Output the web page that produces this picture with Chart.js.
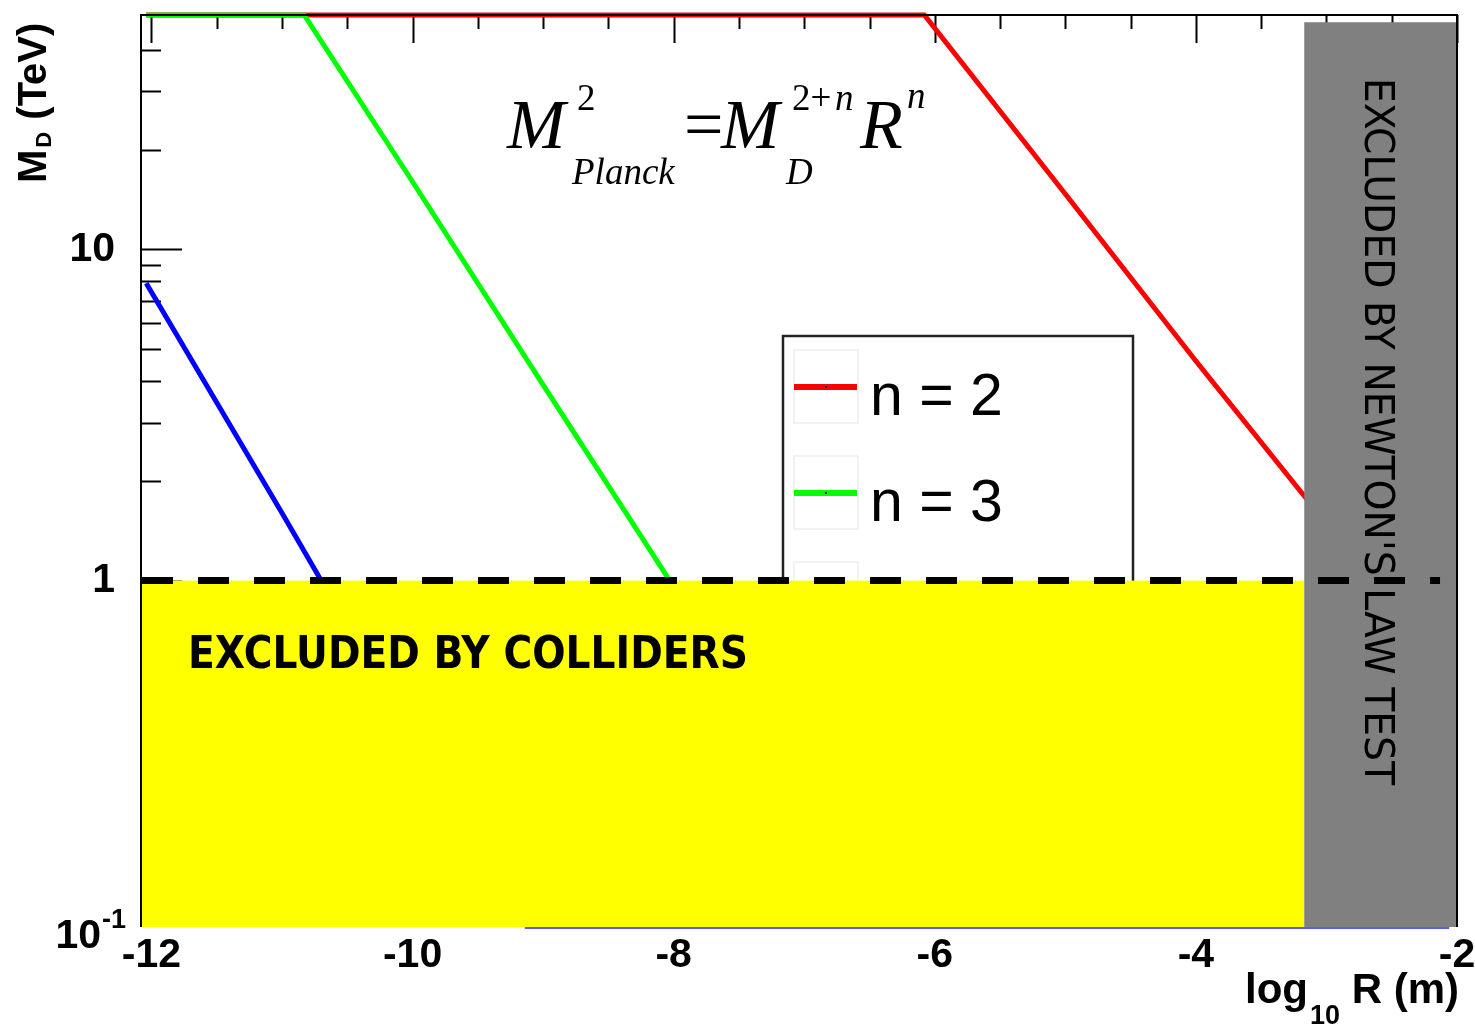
<!DOCTYPE html>
<html>
<head>
<meta charset="utf-8">
<script src="https://cdn.jsdelivr.net/npm/chart.js@4/dist/chart.umd.min.js"></script>
<style>
  html, body { margin: 0; padding: 0; background: #fff; }
  canvas { display: block; }
</style>
</head>
<body>
<canvas id="myChart" width="1475" height="1027"></canvas>
<script>
// log10 R (m) and M_D (TeV) along each curve; where a curve runs off the
// top of the frame it is held at the top edge
const logR_n2 = [-12.04, -6.08, -5.0, -4.0, -3.17, -2.0];
const MD_n2   = [51, 51, 14.7, 4.6, 1.8, 0.46];
const logR_n3 = [-12.04, -10.83, -10.0, -9.0, -8.03, -7.0];
const MD_n3   = [51, 51, 16.0, 3.9, 1.0, 0.24];
const logR_n4 = [-12.04, -11.0, -10.7, -10.0];
const MD_n4   = [7.9, 1.6, 1.0, 0.34];

const seriesLabels = ['n = 2', 'n = 3', 'n = 4'];
const seriesColors = ['#ff0000', '#00ff00', '#0000ff'];

const xTicks = [-12, -10, -8, -6, -4, -2];
const yTicks = [0.1, 1, 10];
const xMin = -12.08, xMax = -2;
const yMin = 0.09, yMax = 51;

// excluded regions
const colliderLimit = 1;      // TeV
const newtonLimit = -3.17;    // log10 R
const newtonTop = 48.5;

const ctx = document.getElementById('myChart');

function pts(xs, ys) {
    return xs.map((v, i) => ({ x: v, y: ys[i] }));
}

const tickFont = { family: 'Liberation Sans', weight: 'bold', size: 41 };

const decor = {
    id: 'decor',
    beforeDatasetsDraw(chart) {
        const { ctx, chartArea: a, scales: { x, y } } = chart;
        ctx.save();
        ctx.strokeStyle = '#000';
        ctx.lineWidth = 2;
        ctx.beginPath();
        // top axis ticks, pointing inside
        for (let v = -12; v <= -2; v += 0.5) {
            const px = Math.round(x.getPixelForValue(v)) + 0.5;
            const len = (v % 2 === 0) ? 28 : 14;
            ctx.moveTo(px, a.top);
            ctx.lineTo(px, a.top + len);
        }
        // left axis ticks
        const minor = [0.2, 0.3, 0.4, 0.5, 0.6, 0.7, 0.8, 0.9, 2, 3, 4, 5, 6, 7, 8, 9, 20, 30, 40];
        minor.forEach(v => {
            const py = Math.round(y.getPixelForValue(v)) + 0.5;
            ctx.moveTo(a.left, py);
            ctx.lineTo(a.left + 20, py);
        });
        [1, 10].forEach(v => {
            const py = Math.round(y.getPixelForValue(v)) + 0.5;
            ctx.moveTo(a.left, py);
            ctx.lineTo(a.left + 41, py);
        });
        ctx.stroke();
        ctx.restore();
    },
    afterDatasetsDraw(chart) {
        const { ctx, chartArea: a, scales: { x, y } } = chart;
        ctx.save();

        // legend box (its lower part ends up under the yellow band)
        const lg = { x: 783, y: 336, w: 350, h: 330, row: 106 };
        ctx.fillStyle = '#fff';
        ctx.fillRect(lg.x, lg.y, lg.w, lg.h);
        ctx.strokeStyle = '#222';
        ctx.lineWidth = 2.5;
        ctx.strokeRect(lg.x, lg.y, lg.w, lg.h);
        chart.data.datasets.forEach((ds, i) => {
            const top = 350 + i * lg.row;
            ctx.strokeStyle = '#eeeeee';
            ctx.lineWidth = 1.5;
            ctx.strokeRect(794, top, 64, 73);
            ctx.strokeStyle = ds.borderColor;
            ctx.lineWidth = 6;
            ctx.beginPath();
            ctx.moveTo(794, top + 37);
            ctx.lineTo(857, top + 37);
            ctx.stroke();
            ctx.fillStyle = '#000';
            ctx.fillRect(825, top + 36, 2, 2);
            ctx.font = '59px "Liberation Sans"';
            ctx.textBaseline = 'alphabetic';
            ctx.fillText(ds.label, 870, top + 65);
        });

        const xL = x.getPixelForValue(xMin);
        const xN = x.getPixelForValue(newtonLimit);
        const xR = x.getPixelForValue(xMax);
        const y1 = y.getPixelForValue(colliderLimit);

        // excluded by colliders
        ctx.fillStyle = '#ffff00';
        ctx.fillRect(xL, y1, xN - xL, a.bottom - y1);
        // excluded by gravity tests
        const yG = y.getPixelForValue(newtonTop);
        ctx.fillStyle = '#808080';
        ctx.fillRect(xN, yG, xR - xN - 1, a.bottom - yG);

        // thin line under the bands
        ctx.strokeStyle = '#5a5aff';
        ctx.lineWidth = 2;
        ctx.beginPath();
        ctx.moveTo(x.getPixelForValue(-9.14), a.bottom + 1);
        ctx.lineTo(x.getPixelForValue(-2.06), a.bottom + 1);
        ctx.stroke();

        // frame
        ctx.strokeStyle = '#000';
        ctx.lineWidth = 2;
        ctx.beginPath();
        ctx.moveTo(a.left, a.bottom);
        ctx.lineTo(a.left, a.top);
        ctx.lineTo(a.right, a.top);
        ctx.lineTo(a.right, a.bottom);
        ctx.stroke();

        // M_D = 1 TeV
        ctx.setLineDash([31, 25]);
        ctx.lineWidth = 7;
        ctx.beginPath();
        ctx.moveTo(a.left + 1, y1);
        ctx.lineTo(x.getPixelForValue(-2.13), y1);
        ctx.stroke();
        ctx.setLineDash([]);

        // band labels
        ctx.fillStyle = '#000';
        fitText(ctx, 'EXCLUDED BY COLLIDERS', 188, 668, 560, 'bold 45px "DejaVu Sans"');
        ctx.save();
        ctx.translate(1365, 78);
        ctx.rotate(Math.PI / 2);
        fitText(ctx, 'EXCLUDED BY NEWTON\'S LAW TEST', 0, 0, 707, '41px "DejaVu Sans"');
        ctx.restore();

        // M^2_Planck = M_D^(2+n) R^n
        const big = 'italic 70px "Liberation Serif"';
        const sml = 'italic 37px "Liberation Serif"';
        const num = '37px "Liberation Serif"';
        ctx.font = big;  ctx.fillText('M', 507, 148);
        ctx.font = num;  ctx.fillText('2', 577, 110);
        ctx.font = sml;  ctx.fillText('Planck', 572, 184);
        ctx.font = '70px "Liberation Serif"'; ctx.fillText('=', 684, 148);
        ctx.font = big;  ctx.fillText('M', 721, 148);
        ctx.font = num;  ctx.fillText('2+', 792, 110);
        ctx.font = sml;  ctx.fillText('n', 835, 110);
        ctx.font = sml;  ctx.fillText('D', 786, 184);
        ctx.font = big;  ctx.fillText('R', 860, 148);
        ctx.font = sml;  ctx.fillText('n', 907, 108);

        // 10^-1 tick label
        ctx.font = 'bold 41px "Liberation Sans"';
        ctx.textAlign = 'right';
        ctx.fillText('10', 101, a.bottom + 21);
        ctx.textAlign = 'left';
        ctx.font = 'bold 27px "Liberation Sans"';
        ctx.fillText('-1', 102, a.bottom + 1);

        // axis titles
        ctx.font = 'bold 42px "Liberation Sans"';
        ctx.fillText('log', 1245, 1003);
        ctx.font = 'bold 27px "Liberation Sans"';
        ctx.fillText('10', 1310, 1024);
        ctx.font = 'bold 42px "Liberation Sans"';
        ctx.fillText(' R (m)', 1340, 1003);

        ctx.save();
        ctx.translate(46, 183);
        ctx.rotate(-Math.PI / 2);
        ctx.font = 'bold 40px "Liberation Sans"';
        ctx.fillText('M', 0, 0);
        const mw = ctx.measureText('M').width;
        ctx.font = 'bold 22px "Liberation Sans"';
        ctx.fillText('D', mw + 2, 5);
        const dw = ctx.measureText('D').width;
        ctx.font = 'bold 40px "Liberation Sans"';
        ctx.fillText(' (TeV)', mw + dw + 3, 0);
        ctx.restore();

        ctx.restore();
    }
};

// draws text squeezed horizontally to a given width
function fitText(ctx, text, x0, y0, width, font) {
    ctx.save();
    ctx.font = font;
    ctx.textAlign = 'left';
    ctx.textBaseline = 'alphabetic';
    const w = ctx.measureText(text).width;
    ctx.translate(x0, y0);
    ctx.scale(width / w, 1);
    ctx.fillText(text, 0, 0);
    ctx.restore();
}

new Chart(ctx, {
    type: 'line',
    data: {
        datasets: [
            // higher order is drawn first, so n = 4 ends up on top
            { label: seriesLabels[0], data: pts(logR_n2, MD_n2), borderColor: seriesColors[0], order: 3 },
            { label: seriesLabels[1], data: pts(logR_n3, MD_n3), borderColor: seriesColors[1], order: 2 },
            { label: seriesLabels[2], data: pts(logR_n4, MD_n4), borderColor: seriesColors[2], order: 1 }
        ].map(ds => Object.assign(ds, {
            borderWidth: 5,
            pointRadius: 0,
            tension: 0,
            fill: false,
            // let the clipped top segments sit on the frame line
            clip: { left: 6, top: 6, right: 0, bottom: 0 }
        }))
    },
    options: {
        responsive: false,
        animation: false,
        layout: {
            padding: { left: 10, top: 15, right: 18, bottom: 10 }
        },
        plugins: {
            legend: { display: false },
            tooltip: { enabled: false }
        },
        scales: {
            x: {
                type: 'linear',
                min: xMin,
                max: xMax,
                afterBuildTicks: s => { s.ticks = xTicks.map(v => ({ value: v })); },
                afterFit: s => { s.height = 90; s.paddingLeft = 0; s.paddingRight = 0; },
                grid: { display: false },
                border: { display: false },
                ticks: {
                    font: tickFont,
                    color: '#000',
                    padding: -4,
                    maxRotation: 0,
                    autoSkip: false,
                    callback: v => String(v)
                }
            },
            y: {
                type: 'logarithmic',
                min: yMin,
                max: yMax,
                afterBuildTicks: s => { s.ticks = yTicks.map(v => ({ value: v })); },
                afterFit: s => { s.width = 131; s.paddingTop = 0; s.paddingBottom = 0; },
                grid: { display: false },
                border: { display: false },
                ticks: {
                    font: tickFont,
                    color: '#000',
                    padding: 18,
                    autoSkip: false,
                    callback: v => (v < 0.5 ? '' : String(v))
                }
            }
        }
    },
    plugins: [decor]
});
</script>
</body>
</html>
